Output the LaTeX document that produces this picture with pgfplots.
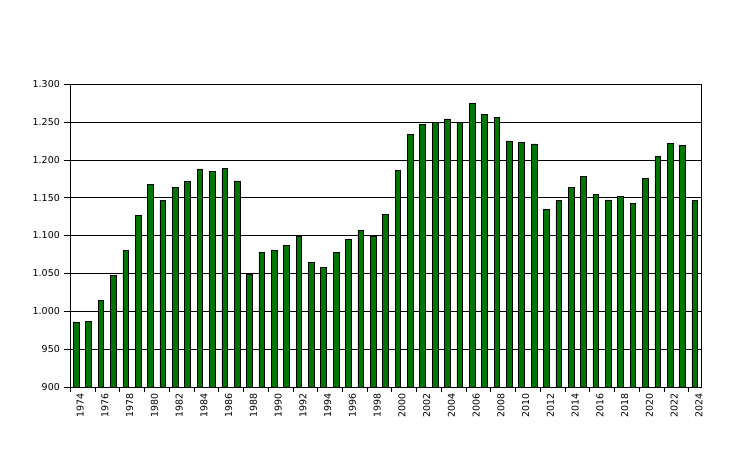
\documentclass[border=0pt]{standalone}
\usepackage{pgfplots}
\pgfplotsset{compat=1.18}
\usepackage{fontspec}
\setmainfont{DejaVu Sans}
\definecolor{bargreen}{RGB}{0,118,0}
\begin{document}
\begin{tikzpicture}
\begin{axis}[
    ybar,
    scale only axis,
    width=631bp, height=303bp,
    at={(0,0)}, anchor=south west,
    bar width=0.46,
    xmin=-0.5, xmax=50.5,
    ymin=900, ymax=1300,
    ytick={900,950,...,1300},
    xtick={0,2,...,50},
    xticklabels={1974,1976,1978,1980,1982,1984,1986,1988,1990,1992,1994,1996,1998,2000,2002,2004,2006,2008,2010,2012,2014,2016,2018,2020,2022,2024},
    minor xtick={-0.5,1.5,...,49.5},
    major x tick style={draw=none},
    minor x tick style={black, thin},
    ytick style={black, thin},
    xtick pos=bottom, ytick pos=left,
    major tick length=6bp,
    minor tick length=5bp,
    tick align=outside,
    ymajorgrids,
    grid style={black, thin},
    axis line style={black, thin},
    scaled y ticks=false,
    /pgf/number format/.cd, 1000 sep={.}, assume math mode=true,
    /pgfplots/.cd,
    tick label style={font=\fontsize{9.5}{11}\selectfont},
    xticklabel style={rotate=90, anchor=east, inner sep=0pt, yshift=-4bp},
    yticklabel style={inner sep=0pt, xshift=-4bp},
]
\addplot[fill=bargreen, draw=black, line width=0.6pt] table {
x y
0 986
1 987
2 1014
3 1047
4 1080
5 1127
6 1167
7 1146
8 1163
9 1171
10 1188
11 1185
12 1189
13 1172
14 1049
15 1078
16 1081
17 1087
18 1099
19 1065
20 1058
21 1078
22 1095
23 1107
24 1099
25 1128
26 1186
27 1233
28 1247
29 1249
30 1254
31 1249
32 1274
33 1260
34 1256
35 1225
36 1223
37 1221
38 1134
39 1146
40 1163
41 1178
42 1154
43 1147
44 1152
45 1142
46 1175
47 1204
48 1222
49 1219
50 1146
};
\end{axis}
\path (-70bp,-66bp) rectangle (661bp,387bp);
\end{tikzpicture}
\end{document}
